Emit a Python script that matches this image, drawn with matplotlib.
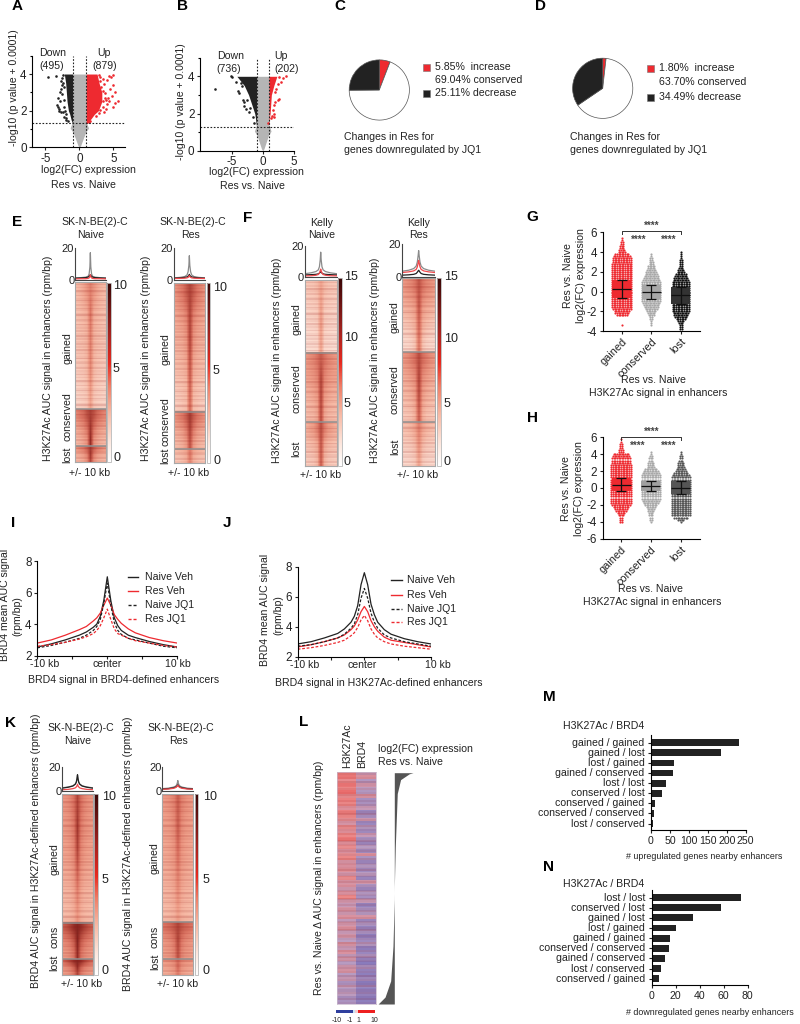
import numpy as np
import matplotlib
matplotlib.use("Agg")
import matplotlib.pyplot as plt
from matplotlib.colors import LinearSegmentedColormap, Normalize
from matplotlib.cm import ScalarMappable
from matplotlib.patches import Rectangle

W, H = 800, 1024
plt.rcParams['font.family'] = ['Liberation Sans', 'DejaVu Sans']
plt.rcParams['axes.linewidth'] = 0.8
plt.rcParams['axes.unicode_minus'] = False
FS = 7.6
TXT = '#222222'
RED = '#ee2a30'
BLK = '#222222'
GRY = '#b5b5b5'

# ---- volcano data (envelopes of the dense clouds and the loose points)
a_env_y = [1.3, 1.5, 1.8, 2.0, 2.5, 3.0, 3.5, 4.0]
a_black_x = [-1.0, -1.2, -1.4, -1.6, -1.8, -1.9, -2.0, -2.2]
a_red_x = [1.2, 1.6, 2.2, 2.8, 3.3, 3.3, 2.9, 2.6]
a_black_pts_x = [-4.6, -3.4, -3.2, -3.0, -2.9, -2.7, -3.3, -3.1, -2.8, -2.6, -2.7, -2.5, -3.0, -2.7, -2.4, -2.2, -2.0,
                 -2.4, -2.3, -2.5, -2.2, -2.3, -2.1, -2.4, -2.0, -1.9, -1.7]
a_black_pts_y = [3.85, 3.9, 2.2, 2.1, 2.5, 3.2, 2.3, 2.7, 3.0, 3.4, 3.6, 3.8, 2.0, 1.95, 1.9, 1.65, 1.5,
                 3.95, 3.3, 2.9, 2.6, 2.2, 2.0, 3.5, 1.8, 1.6, 1.45]
a_red_pts_x = [5.6, 5.3, 5.0, 4.9, 5.2, 4.6, 4.3, 4.5, 4.2, 5.0, 4.8, 3.9, 3.6, 4.0, 4.4, 1.6, 1.4,
               2.9, 3.1, 3.4, 3.6, 3.2, 3.5, 3.8, 3.7, 3.5, 3.9, 3.4, 3.1, 2.9, 4.1, 3.0, 2.4]
a_red_pts_y = [2.55, 2.4, 2.2, 3.4, 3.0, 3.85, 3.9, 3.2, 2.7, 3.95, 2.8, 2.1, 1.95, 2.35, 2.5, 1.45, 1.4,
               3.95, 3.85, 3.75, 3.45, 3.3, 3.1, 2.95, 2.7, 2.5, 2.6, 2.2, 2.05, 1.85, 3.65, 3.6, 1.7]

b_env_y = [1.3, 1.5, 1.8, 2.0, 2.5, 3.0, 3.5, 4.0]
b_black_x = [-1.0, -1.1, -1.2, -1.3, -1.8, -2.3, -3.0, -4.2]
b_red_x = [1.0, 1.05, 1.1, 1.2, 1.3, 1.4, 1.8, 2.3]
b_black_pts_x = [-7.8, -5.2, -5.0, -4.3, -4.0, -3.8, -3.4, -3.2, -3.0, -3.1, -2.7, -2.5, -2.2, -2.0, -1.6, -1.5, -3.6]
b_black_pts_y = [3.3, 4.0, 3.95, 3.7, 3.2, 3.1, 3.5, 2.7, 2.6, 2.4, 2.25, 2.75, 2.1, 2.3, 1.8, 1.5, 3.65]
b_red_pts_x = [3.8, 3.3, 3.0, 2.7, 2.4, 2.2, 2.0, 2.4, 2.0, 2.6, 1.8, 1.6, 1.9, 1.5, 1.9, 1.4, 0.9]
b_red_pts_y = [4.0, 3.9, 3.7, 3.95, 3.6, 3.3, 3.15, 2.7, 2.6, 2.8, 2.45, 2.2, 2.0, 1.85, 1.8, 1.75, 1.5]

gray_y = [0.0, 0.1, 0.3, 0.5, 0.8, 1.05, 1.3, 1.35, 4.0]
gray_x = [0.0, 0.2, 0.4, 0.6, 0.9, 1.35, 1.1, 1.0, 1.0]

# ---- pies
pie_c = [5.85, 69.04, 25.11]
pie_d = [1.80, 63.70, 34.49]
pie_colors = [RED, 'white', BLK]

# ---- heatmap rows: far, mid, near, shoulder, centre (mirrored when drawn)
e_naive = [
    [[2.6, 2.8, 3.2, 3.8, 4.6], [2.4, 2.5, 2.7, 3.0, 5.0], [2.3, 2.4, 2.5, 2.8, 4.6], [2.2, 2.3, 2.4, 2.7, 4.5], [2.0, 2.1, 2.2, 2.5, 4.0], [1.8, 1.9, 2.0, 2.2, 3.4]],
    [[4.5, 5.0, 5.5, 6.5, 7.2], [3.2, 3.5, 4.0, 5.0, 7.5], [2.6, 2.8, 3.2, 3.8, 8.0]],
    [[4.0, 4.5, 5.0, 6.0, 7.5], [3.0, 3.2, 3.6, 4.5, 7.5], [2.7, 2.9, 3.2, 4.0, 7.0]],
]
e_res = [
    [[4.0, 4.5, 5.0, 6.0, 7.0], [3.2, 3.5, 3.8, 4.5, 7.0], [2.9, 3.0, 3.2, 3.8, 7.0], [2.6, 2.7, 2.9, 3.3, 6.5], [2.3, 2.4, 2.5, 2.8, 6.0], [2.0, 2.1, 2.3, 2.5, 5.5]],
    [[4.0, 4.5, 5.0, 6.0, 7.5], [3.0, 3.2, 3.6, 4.6, 7.0], [2.5, 2.7, 3.0, 3.6, 6.5]],
    [[2.6, 2.8, 3.0, 3.4, 5.0], [2.3, 2.4, 2.6, 3.0, 5.0], [2.2, 2.3, 2.5, 2.9, 4.5]],
]
f_naive = [
    [[3.2, 3.3, 3.4, 3.8, 5.0], [2.8, 2.9, 3.0, 3.2, 5.2], [2.5, 2.6, 2.7, 3.0, 5.5], [2.2, 2.3, 2.4, 2.6, 5.0]],
    [[5.5, 6.0, 6.5, 7.5, 9.0], [5.0, 5.2, 5.6, 6.5, 10.5], [4.2, 4.4, 4.8, 5.5, 10.5], [3.6, 3.8, 4.0, 4.8, 10.0]],
    [[4.5, 5.0, 5.5, 7.0, 10.0], [3.5, 3.7, 4.0, 4.8, 9.5], [3.0, 3.1, 3.3, 4.0, 9.0]],
]
f_res = [
    [[5.5, 6.0, 6.5, 7.5, 9.5], [4.2, 4.5, 4.8, 5.5, 9.5], [3.2, 3.4, 3.7, 4.4, 8.5], [2.4, 2.5, 2.8, 3.4, 7.5]],
    [[5.5, 6.0, 6.8, 7.8, 10.0], [4.4, 4.7, 5.2, 6.0, 10.5], [3.8, 4.0, 4.4, 5.2, 10.0], [3.2, 3.4, 3.6, 4.4, 9.0]],
    [[3.6, 3.8, 4.2, 5.0, 7.0], [2.9, 3.0, 3.2, 3.8, 6.0], [2.4, 2.5, 2.7, 3.1, 5.0]],
]
k_naive = [
    [[3.8, 4.0, 4.4, 5.2, 7.0], [3.6, 3.8, 4.1, 4.8, 7.5], [3.4, 3.5, 3.8, 4.4, 7.0], [3.1, 3.2, 3.4, 3.9, 5.8], [2.7, 2.8, 2.9, 3.3, 4.6], [2.5, 2.6, 2.7, 3.0, 3.8]],
    [[6.0, 6.5, 7.2, 8.0, 8.5], [4.4, 4.7, 5.2, 6.2, 8.5], [3.6, 3.8, 4.2, 5.0, 8.0]],
    [[5.5, 6.2, 7.0, 8.0, 8.5], [4.0, 4.3, 4.8, 5.8, 8.0], [3.6, 3.8, 4.2, 5.0, 7.0]],
]
k_res = [
    [[3.6, 3.8, 4.1, 4.6, 6.0], [3.4, 3.5, 3.7, 4.2, 6.0], [3.2, 3.3, 3.5, 3.9, 5.5], [3.0, 3.1, 3.3, 3.6, 4.8], [2.7, 2.8, 2.9, 3.2, 4.2], [2.5, 2.6, 2.7, 2.9, 3.5]],
    [[5.0, 5.3, 5.6, 6.2, 7.0], [3.8, 4.0, 4.3, 5.0, 7.0], [3.4, 3.6, 3.8, 4.4, 6.5]],
    [[3.6, 3.8, 4.0, 4.4, 5.5], [3.2, 3.3, 3.5, 3.9, 5.5], [3.0, 3.1, 3.3, 3.6, 4.8]],
]
# row to row banding laid over the heatmaps
streaks = [0.2, 0.7, 0.1, 0.4, 0.0, 0.9, 0.3, 0.1, 0.6, 0.0, 0.3, 0.8, 0.2, 0.0, 0.5, 0.1, 0.7, 0.3, 0.0, 0.4,
           1.0, 0.2, 0.1, 0.6, 0.3, 0.0, 0.8, 0.2, 0.4, 0.1, 0.6, 0.0, 0.3, 0.9, 0.2, 0.5, 0.0, 0.3, 0.7, 0.1,
           0.4, 0.0, 0.8, 0.2, 0.5, 0.1, 0.3, 0.9, 0.0, 0.4, 0.6, 0.1, 0.2, 0.7, 0.0, 0.3]

# ---- small profile plots above the heatmaps: -10 ... 0, mirrored
prof_x = [-10, -6, -3, -1.5, -0.8, -0.3, 0]
e_naive_prof = [[1.0, 1.2, 1.5, 2.0, 3.5, 8.0, 17.0], [0.8, 1.0, 1.2, 1.5, 2.0, 2.6, 3.0], [0.4, 0.5, 0.5, 0.7, 1.0, 1.8, 3.0]]
e_res_prof = [[1.2, 1.5, 2.0, 3.0, 5.0, 9.0, 15.0], [1.0, 1.2, 1.5, 1.8, 2.2, 2.8, 3.4], [0.8, 0.9, 1.0, 1.2, 1.5, 2.0, 2.6]]
f_naive_prof = [[2.0, 2.6, 3.4, 4.5, 6.5, 11.0, 16.0], [1.2, 1.4, 1.6, 1.9, 2.4, 3.0, 3.4], [0.6, 0.7, 1.0, 1.5, 2.4, 4.0, 5.0]]
f_res_prof = [[3.4, 4.0, 5.0, 6.5, 9.0, 13.0, 16.0], [1.0, 1.2, 1.5, 2.0, 2.8, 3.6, 4.0], [2.6, 3.0, 3.6, 4.5, 6.0, 8.5, 10.0]]
k_naive_prof = [[2.5, 3.2, 4.2, 5.5, 7.0, 10.0, 13.0], [2.2, 3.0, 4.0, 5.5, 7.2, 10.5, 13.5], [0.9, 1.2, 1.8, 2.4, 3.2, 4.2, 5.5]]
k_res_prof = [[1.8, 2.2, 3.0, 3.8, 4.8, 6.5, 8.5], [1.4, 1.8, 2.4, 3.0, 3.6, 4.4, 5.0], [1.2, 1.5, 2.0, 2.6, 3.2, 4.0, 4.6]]

# ---- beeswarm bins for G and H, top to bottom
g_levels = [5.4, 5.2, 5.0, 4.8, 4.6, 4.4, 4.2, 4.0, 3.8, 3.6, 3.4, 3.2, 3.0, 2.8, 2.6, 2.4, 2.2, 2.0, 1.8, 1.6, 1.4, 1.2, 1.0, 0.8,
            0.6, 0.4, 0.2, 0.0, -0.2, -0.4, -0.6, -0.8, -1.0, -1.2, -1.4, -1.6, -1.8, -2.0, -2.2, -2.4, -2.6, -2.8, -3.0, -3.2, -3.4, -3.6, -3.8]
g_gained = [1, 1, 2, 2, 3, 3, 4, 5, 9, 11, 12, 12, 12, 13, 13, 13, 13, 13, 13, 13, 13, 13, 13, 13,
            13, 13, 13, 13, 13, 13, 13, 13, 13, 13, 13, 13, 12, 10, 9, 7, 0, 0, 0, 0, 1, 0, 0]
g_cons = [0, 0, 0, 0, 0, 0, 0, 0, 1, 1, 2, 2, 3, 3, 5, 5, 6, 7, 8, 9, 10, 11, 12, 12,
          12, 12, 12, 12, 12, 12, 12, 12, 12, 11, 10, 9, 8, 6, 5, 4, 2, 2, 1, 1, 1, 0, 0]
g_lost = [0, 0, 0, 0, 0, 0, 0, 1, 1, 1, 1, 2, 2, 2, 2, 3, 4, 5, 7, 8, 9, 10, 11, 11,
          11, 11, 11, 11, 11, 11, 11, 11, 11, 11, 11, 11, 11, 11, 10, 9, 8, 6, 4, 3, 2, 2, 2]
g_band = [(-0.7, 1.2), (-0.8, 0.7), (-1.3, 0.5)]
g_mean = [0.25, 0.0, -0.4]

h_levels = [5.75, 5.5, 5.25, 5.0, 4.75, 4.5, 4.25, 4.0, 3.75, 3.5, 3.25, 3.0, 2.75, 2.5, 2.25, 2.0, 1.75, 1.5, 1.25, 1.0, 0.75, 0.5, 0.25, 0.0,
            -0.25, -0.5, -0.75, -1.0, -1.25, -1.5, -1.75, -2.0, -2.25, -2.5, -2.75, -3.0, -3.25, -3.5, -3.75, -4.0]
h_gained = [1, 1, 2, 2, 2, 3, 3, 10, 11, 12, 12, 12, 13, 13, 13, 13, 13, 13, 13, 13, 13, 13, 13, 13,
            13, 13, 13, 13, 13, 13, 13, 12, 10, 8, 7, 5, 4, 2, 2, 2]
h_cons = [0, 0, 0, 0, 0, 0, 1, 1, 2, 3, 3, 4, 4, 5, 8, 10, 11, 12, 12, 12, 12, 12, 12, 12,
          12, 12, 12, 12, 12, 11, 10, 8, 6, 5, 4, 3, 3, 2, 2, 1]
h_lost = [0, 0, 0, 0, 0, 0, 1, 1, 2, 2, 3, 4, 4, 5, 6, 7, 9, 11, 12, 12, 12, 12, 12, 12,
          12, 12, 12, 12, 12, 12, 12, 12, 12, 12, 12, 12, 12, 9, 4, 1]
h_band = [(-0.4, 1.2), (-0.4, 0.8), (-0.7, 0.8)]
h_mean = [0.4, 0.2, 0.0]

# ---- profiles I and J
line_x = [-10, -8, -6, -4, -3, -2, -1.5, -1, -0.5, 0, 0.5, 1, 1.5, 2, 3, 4, 6, 8, 10]
i_naive_veh = [2.55, 2.75, 3.0, 3.3, 3.5, 3.8, 4.0, 4.5, 5.5, 7.0, 5.5, 4.4, 3.9, 3.6, 3.3, 3.15, 2.9, 2.7, 2.55]
i_res_veh = [2.8, 3.0, 3.3, 3.65, 3.85, 4.2, 4.4, 4.7, 5.2, 5.65, 5.2, 4.6, 4.3, 4.05, 3.7, 3.45, 3.15, 2.95, 2.8]
i_naive_jq1 = [2.5, 2.65, 2.85, 3.1, 3.3, 3.6, 3.85, 4.3, 5.3, 6.6, 5.2, 4.1, 3.6, 3.35, 3.1, 3.0, 2.8, 2.6, 2.5]
i_res_jq1 = [2.6, 2.7, 2.85, 3.05, 3.2, 3.4, 3.6, 3.9, 4.4, 4.95, 4.3, 3.7, 3.4, 3.3, 3.1, 2.95, 2.8, 2.65, 2.55]
j_naive_veh = [2.85, 3.0, 3.25, 3.55, 3.85, 4.3, 4.7, 5.4, 6.8, 7.6, 6.8, 5.5, 4.8, 4.3, 3.8, 3.5, 3.2, 3.0, 2.85]
j_res_veh = [2.65, 2.8, 3.0, 3.25, 3.45, 3.8, 4.05, 4.45, 5.0, 5.35, 5.0, 4.4, 4.0, 3.7, 3.3, 3.1, 2.95, 2.8, 2.65]
j_naive_jq1 = [2.7, 2.8, 3.0, 3.25, 3.5, 3.9, 4.2, 4.8, 5.9, 6.55, 5.9, 4.9, 4.3, 3.9, 3.45, 3.25, 3.0, 2.85, 2.7]
j_res_jq1 = [2.5, 2.6, 2.75, 2.95, 3.1, 3.4, 3.6, 3.95, 4.45, 4.75, 4.4, 3.85, 3.5, 3.25, 3.0, 2.85, 2.7, 2.6, 2.5]
legend_names = ['Naive Veh', 'Res Veh', 'Naive JQ1', 'Res JQ1']

# ---- L: delta AUC per row (H3K27Ac, BRD4) and the expression ribbon
l_h3 = [0.55, 0.6, 0.45, 0.6, 0.5, 0.65, 0.45, 0.55, 0.5, 0.35, 0.55, 0.5, 0.4, 0.25, 0.45, 0.35, 0.5, 0.6, 0.35, 0.45,
        0.3, 0.4, 0.5, 0.25, 0.3, 0.35, 0.2, 0.45, 0.25, 0.3, 0.15, 0.3, 0.5, 0.2, 0.1, 0.25, 0.15, 0.3, 0.05, 0.2,
        0.3, 0.1, 0.2, 0.0, 0.25, 0.1, 0.3, 0.05, 0.2, -0.05, 0.15, 0.25, -0.05, 0.1, -0.15, 0.05, -0.1, 0.0, -0.2, -0.15]
l_brd4 = [0.1, 0.3, -0.1, 0.2, 0.0, -0.1, 0.25, -0.2, -0.15, 0.1, -0.3, -0.2, 0.15, -0.3, -0.1, -0.25, 0.1, -0.2, -0.3, -0.05,
          -0.25, 0.3, -0.15, -0.3, -0.1, -0.25, -0.05, -0.3, 0.2, -0.15, -0.3, -0.1, -0.2, 0.1, -0.35, -0.2, -0.1, 0.25, -0.3, -0.15,
          -0.35, -0.2, -0.4, -0.25, -0.1, -0.4, -0.3, -0.15, -0.35, -0.45, -0.2, -0.35, -0.4, -0.25, -0.45, -0.3, -0.4, -0.35, -0.45, -0.4]
ribbon_frac = [0.0, 0.005, 0.03, 0.09, 0.32, 0.49, 0.55, 0.75, 0.9, 0.97, 1.0]
ribbon_fc = [5.7, 4.5, 1.9, 0.9, 0.3, 0.02, -0.02, -0.4, -1.1, -2.8, -4.9]

# ---- bars M and N
m_names = ['gained / gained', 'gained / lost', 'lost / gained', 'gained / conserved', 'lost / lost',
           'conserved / lost', 'conserved / gained', 'conserved / conserved', 'lost / conserved']
m_vals = [231, 186, 62, 59, 39, 30, 11, 8, 5]
n_names = ['lost / lost', 'conserved / lost', 'gained / lost', 'lost / gained', 'gained / gained',
           'conserved / conserved', 'gained / conserved', 'lost / conserved', 'conserved / gained']
n_vals = [74, 58, 34, 20, 15, 14, 11, 8, 6]

bar_cmap = LinearSegmentedColormap.from_list(
    'heatbar', [(0, '#ffffff'), (0.12, '#fde6dc'), (0.28, '#f7b7a2'), (0.42, '#ef7f68'), (0.55, '#e7291f'),
                (0.72, '#a3231f'), (1, '#3a0606')])
heat_cmap = LinearSegmentedColormap.from_list(
    'heat', [(0, '#ffffff'), (0.18, '#fbd6c8'), (0.26, '#f7bba7'), (0.35, '#f0a08a'), (0.5, '#dd7765'),
             (0.65, '#bd5244'), (0.8, '#962f28'), (1, '#5a1010')])
streak_cmap = LinearSegmentedColormap.from_list('streak', ['#90101000', '#90101030'])
l_cmap = LinearSegmentedColormap.from_list('delta', ['#3a4fb0', '#8478bc', '#bd9fc2', '#ec8a8a', '#e83030'])


fig = plt.figure(figsize=(W / 100, H / 100), dpi=100)


def axpx(x0, y0, x1, y1):
    return fig.add_axes([x0 / W, 1 - y1 / H, (x1 - x0) / W, (y1 - y0) / H])


ov = fig.add_axes([0, 0, 1, 1], zorder=20)
ov.set_xlim(0, W)
ov.set_ylim(H, 0)
ov.axis('off')
ov.patch.set_alpha(0)


def T(x, y, s, size=FS, ha='center', rot=0, **kw):
    kw.setdefault('color', TXT)
    ov.text(x, y, s, fontsize=size, ha=ha, va='center', rotation=rot, rotation_mode='anchor', **kw)


def clean(ax):
    ax.spines['top'].set_visible(False)
    ax.spines['right'].set_visible(False)
    ax.patch.set_alpha(0)
    ax.tick_params(labelsize=8.4, width=0.8, length=2.5, pad=1.5, colors=TXT)


for s, x, y in [('A', 17, 6), ('B', 183, 6), ('C', 340, 6), ('D', 541, 6), ('E', 17, 222), ('F', 248, 218),
                ('G', 532, 217), ('H', 532, 418), ('I', 13, 523), ('J', 227, 523), ('K', 10, 723), ('L', 304, 722),
                ('M', 549, 697), ('N', 548, 867)]:
    T(x, y, s, size=11, fontweight='bold', color='black')


def volcano(box, xlim, ey, bx, rx, bpx, bpy, rpx, rpy, xt):
    ax = axpx(*box)
    clean(ax)
    ax.fill_betweenx(gray_y, -np.array(gray_x), gray_x, color=GRY, lw=0)
    ax.fill_betweenx(ey, bx, -1, color=BLK, lw=0)
    ax.fill_betweenx(ey, 1, rx, color=RED, lw=0)
    ax.scatter(bpx, bpy, s=3.5, color=BLK, lw=0)
    ax.scatter(rpx, rpy, s=3.5, color=RED, lw=0)
    ax.axvline(-1, color='#222', lw=0.8, ls=(0, (1.5, 1.5)))
    ax.axvline(1, color='#222', lw=0.8, ls=(0, (1.5, 1.5)))
    ax.axhline(1.3, color='#222', lw=0.8, ls=(0, (1.5, 1.5)))
    ax.set_xlim(*xlim)
    ax.set_ylim(0, 5)
    ax.set_xticks(xt)
    ax.set_yticks([0, 2, 4])
    ax.set_yticks([1, 3, 5], minor=True)
    ax.tick_params(which='minor', length=1.5, width=0.8)


volcano((32.3, 55.7, 125, 147.3), (-6.9, 6.7), a_env_y, a_black_x, a_red_x, a_black_pts_x, a_black_pts_y,
        a_red_pts_x, a_red_pts_y, [-5, 0, 5])
volcano((200, 57.7, 293.5, 150.7), (-10.2, 5), b_env_y, b_black_x, b_red_x, b_black_pts_x, b_black_pts_y,
        b_red_pts_x, b_red_pts_y, [-5, 0, 5])

T(53, 53, 'Down')
T(52, 66, '(495)')
T(104, 53, 'Up')
T(105, 66, '(879)')
T(231, 56, 'Down')
T(229, 69, '(736)')
T(281, 56, 'Up')
T(287, 69, '(202)')
T(14, 88, '-log10 (p value + 0.0001)', rot=90)
T(181, 102, '-log10 (p value + 0.0001)', rot=90)
T(88, 170, 'log2(FC) expression')
T(83, 185, 'Res vs. Naive')
T(256, 172, 'log2(FC) expression')
T(252, 186, 'Res vs. Naive')

# pies
for vals, cx, cy in [(pie_c, 379.3, 90), (pie_d, 602.7, 88.3)]:
    ax = axpx(cx - 31, cy - 31, cx + 31, cy + 31)
    ax.pie(vals, colors=pie_colors, startangle=90, counterclock=False, radius=1,
           wedgeprops=dict(edgecolor='#555555', linewidth=0.5))
    ax.set_xlim(-1.03, 1.03)
    ax.set_ylim(-1.03, 1.03)

for x, ys in [(426, (67, 93)), (650.7, (68, 97.7))]:
    ov.add_patch(Rectangle((x - 3.5, ys[0] - 3.5), 7, 7, fc=RED, ec='#777', lw=0.4))
    ov.add_patch(Rectangle((x - 3.5, ys[1] - 3.5), 7, 7, fc=BLK, ec='#777', lw=0.4))
T(435, 67, '5.85%  increase', ha='left')
T(435, 80, '69.04% conserved', ha='left')
T(435, 93, '25.11% decrease', ha='left')
T(659, 68, '1.80%  increase', ha='left')
T(659, 82, '63.70% conserved', ha='left')
T(659, 97.5, '34.49% decrease', ha='left')
T(344, 137, 'Changes in Res for', ha='left')
T(344, 150, 'genes downregulated by JQ1', ha='left')
T(570, 137, 'Changes in Res for', ha='left')
T(570, 150, 'genes downregulated by JQ1', ha='left')


def mirror(row):
    return list(row) + list(row[-2::-1])


def heatmap(box, bounds, sections, vmax, profile, prof_box, cbar_box, cbar_ticks, cbar_x):
    x0, y0, x1, y1 = box
    ax = axpx(*box)
    edges = [y0] + list(bounds) + [y1]
    for i, sec in enumerate(sections):
        ax.imshow([mirror(r) for r in sec], extent=[-10, 10, edges[i + 1], edges[i]], aspect='auto', cmap=heat_cmap,
                  vmin=0, vmax=vmax, interpolation='bilinear')
    ax.imshow(np.tile(streaks, 2)[:, None], extent=[-10, 10, y1, y0], aspect='auto', cmap=streak_cmap, vmin=0, vmax=1,
              interpolation='nearest')
    for b in bounds:
        ax.axhline(b, color='#8f8f8f', lw=1.1)
    ax.set_xlim(-10, 10)
    ax.set_ylim(y1, y0)
    ax.set_xticks([])
    ax.set_yticks([])
    for sp in ax.spines.values():
        sp.set_color('#a8a8a8')
        sp.set_linewidth(0.8)

    px = prof_x + [-v for v in prof_x[-2::-1]]
    ax2 = axpx(*prof_box)
    clean(ax2)
    for vals, col in zip(profile, ['#8a8a8a', BLK, '#f0484c']):
        ax2.plot(px, mirror(vals), color=col, lw=0.9)
    ax2.set_xlim(-10, 10)
    ax2.set_ylim(0, 20)
    ax2.set_xticks([])
    ax2.set_yticks([0, 20])
    ax2.tick_params(labelsize=8, pad=0.5, length=0)
    ax2.spines['left'].set_color('#444')
    ax2.spines['bottom'].set_color('#444')

    cax = axpx(*cbar_box)
    cb = fig.colorbar(ScalarMappable(Normalize(0, vmax), bar_cmap), cax=cax)
    cb.set_ticks([])
    cb.outline.set_edgecolor('#b8b8b8')
    cb.outline.set_linewidth(0.6)
    for lab, y in cbar_ticks:
        T(cbar_x, y, lab, size=9, ha='left')


heatmap((75, 282, 105.7, 461.7), (409.3, 445.7), e_naive, 10, e_naive_prof, (75, 248, 105.7, 279.5),
        (107.3, 282.7, 110.7, 461.7), [('10', 285.7), ('5', 369), ('0', 458)], 113)
heatmap((173.7, 283, 205, 463), (411.7, 449), e_res, 10, e_res_prof, (173.7, 247.7, 205, 279.8),
        (206.7, 283, 210, 463), [('10', 287.7), ('5', 371), ('0', 461)], 213)
heatmap((304.7, 280, 336.7, 466), (352.7, 422.3), f_naive, 15, f_naive_prof, (304.7, 246, 336.7, 276.8),
        (338.3, 278, 341.7, 466), [('15', 277), ('10', 338), ('5', 404), ('0', 461.7)], 344)
heatmap((402, 278, 435.3, 466), (352, 422), f_res, 15, f_res_prof, (402, 244, 435.3, 276.8),
        (437, 278, 440.7, 466), [('15', 277), ('10', 339), ('5', 404), ('0', 462)], 444)
heatmap((62, 794, 93, 975.3), (922.7, 959.3), k_naive, 10, k_naive_prof, (62, 767, 93, 790.8),
        (94.3, 794, 97.7, 975.3), [('10', 796.7), ('5', 880), ('0', 970.7)], 101.7)
heatmap((162.3, 794, 193.3, 975.3), (922.3, 959.3), k_res, 10, k_res_prof, (162.3, 766.7, 193.3, 790.8),
        (195, 794, 198, 975.3), [('10', 796.7), ('5', 880), ('0', 970.7)], 202.7)

T(94.7, 221.7, 'SK-N-BE(2)-C')
T(91, 235, 'Naive')
T(192.7, 221.7, 'SK-N-BE(2)-C')
T(190, 235, 'Res')
T(48, 358, 'H3K27Ac AUC signal in enhancers (rpm/bp)', rot=90)
T(145.7, 358, 'H3K27Ac AUC signal in enhancers (rpm/bp)', rot=90)
T(67.7, 347.7, 'gained', rot=90)
T(67.7, 416.7, 'conserved', rot=90)
T(67.7, 455, 'lost', rot=90)
T(165.7, 349.3, 'gained', rot=90)
T(165.7, 421.7, 'conserved', rot=90)
T(165.7, 455.7, 'lost', rot=90)
T(90, 472.7, '+/- 10 kb')
T(189, 472.7, '+/- 10 kb')

T(321.7, 223, 'Kelly')
T(322, 235, 'Naive')
T(419, 223, 'Kelly')
T(419, 235, 'Res')
T(276.7, 360, 'H3K27Ac AUC signal in enhancers (rpm/bp)', rot=90)
T(375, 360, 'H3K27Ac AUC signal in enhancers (rpm/bp)', rot=90)
T(296.7, 319.3, 'gained', rot=90)
T(296.7, 389, 'conserved', rot=90)
T(296.7, 449, 'lost', rot=90)
T(395, 317, 'gained', rot=90)
T(395, 390, 'conserved', rot=90)
T(395, 447, 'lost', rot=90)
T(321, 475.3, '+/- 10 kb')
T(418, 475.3, '+/- 10 kb')

T(81, 728.3, 'SK-N-BE(2)-C')
T(78, 741, 'Naive')
T(180.3, 728.3, 'SK-N-BE(2)-C')
T(178, 741, 'Res')
T(35.7, 850.8, 'BRD4 AUC signal in H3K27Ac-defined enhancers (rpm/bp)', rot=90)
T(128.3, 854, 'BRD4 AUC signal in H3K27Ac-defined enhancers (rpm/bp)', rot=90)
T(54.3, 859, 'gained', rot=90)
T(54.3, 936.7, 'cons', rot=90)
T(54.3, 963, 'lost', rot=90)
T(155, 858, 'gained', rot=90)
T(155, 936.7, 'cons', rot=90)
T(155, 962, 'lost', rot=90)
T(81.7, 984.3, '+/- 10 kb')
T(177.7, 984.3, '+/- 10 kb')


def swarm(box, ylim, yticks, levels, counts, colors, bands, band_colors, means, centers, brk, stars):
    ax = axpx(*box)
    clean(ax)
    x0, y0, x1, y1 = box
    unit_x = (centers[2] - centers[0]) / 2
    step = 1.6 / unit_x
    names = ['gained', 'conserved', 'lost']
    for k, c in enumerate([1, 2, 3]):
        for y, n in zip(levels, counts[k]):
            off = (np.arange(n) - (n - 1) / 2) * step
            ax.scatter(c + off, np.full(n, y), s=2.4, color=colors[k], lw=0)
        hw = 9.5 / unit_x
        ax.fill_between([c - hw, c + hw], bands[k][0], bands[k][1], color=band_colors[k], lw=0)
        ax.errorbar(c, means[k], yerr=[[means[k] - bands[k][0]], [bands[k][1] - means[k]]], color='#111', lw=0.9,
                    capsize=3.4, capthick=0.9)
        ax.hlines(means[k], c - hw, c + hw, color='#111', lw=0.9)
    ax.set_xlim(1 - (centers[0] - x0) / unit_x, 3 + (x1 - centers[2]) / unit_x)
    ax.set_ylim(*ylim)
    ax.set_yticks(yticks)
    ax.set_xticks([1, 2, 3])
    ax.set_xticklabels(names, rotation=45, ha='right', rotation_mode='anchor', fontsize=7.8)
    ov.plot([centers[0], centers[0], centers[2], centers[2]], [brk + 3, brk, brk, brk + 3], color='#333', lw=0.7)
    T(centers[1] + 1, stars[0], '****', size=7, fontweight='bold', color='#444')
    T(centers[0] + 17, stars[1], '****', size=7, fontweight='bold', color='#444')
    T(centers[2] - 12.5, stars[1], '****', size=7, fontweight='bold', color='#444')


swarm((602.7, 232.3, 700, 331), (-4, 6), [-4, -2, 0, 2, 4, 6], g_levels, [g_gained, g_cons, g_lost],
      [RED, '#a8a8a8', '#111111'], g_band, [RED, '#a8a8a8', '#333333'], g_mean, (621.7, 651, 680.7), 231, (226, 239.5))
swarm((602.7, 437.3, 700, 538.7), (-6, 6), [-6, -4, -2, 0, 2, 4, 6], h_levels, [h_gained, h_cons, h_lost],
      [RED, '#a8a8a8', '#555555'], h_band, [RED, '#a0a0a0', '#555555'], h_mean, (621, 650.7, 680.7), 436.7, (431.5, 445.5))

T(653.3, 380, 'Res vs. Naive')
T(658, 393, 'H3K27Ac signal in enhancers')
T(568, 276, 'Res vs. Naive', rot=90)
T(580.7, 276, 'log2(FC) expression', rot=90)
T(650.7, 589.3, 'Res vs. Naive')
T(652.3, 602.3, 'H3K27Ac signal in enhancers')
T(566, 488.3, 'Res vs. Naive', rot=90)
T(578.7, 488.3, 'log2(FC) expression', rot=90)


def lines(box, series, leg_x, leg_ys, text_x):
    ax = axpx(*box)
    clean(ax)
    styles = [(BLK, '-'), (RED, '-'), (BLK, (0, (2.2, 1.4))), (RED, (0, (2.2, 1.4)))]
    for vals, (c, ls) in zip(series, styles):
        ax.plot(line_x, vals, color=c, ls=ls, lw=0.9)
    ax.set_xlim(-10, 10)
    ax.set_ylim(2, 8)
    ax.set_xticks([-10, -5, 0, 5, 10])
    ax.set_xticklabels([])
    ax.set_yticks([2, 4, 6, 8])
    for name, y, (c, ls) in zip(legend_names, leg_ys, styles):
        ov.plot(leg_x, [y, y], color=c, ls=ls, lw=1.0)
        T(text_x, y, name, ha='left')


lines((37.3, 561, 177.3, 655.7), [i_naive_veh, i_res_veh, i_naive_jq1, i_res_jq1], [128.3, 138.3],
      [577.3, 591, 605, 619.3], 145)
lines((297.7, 566.7, 431, 656.7), [j_naive_veh, j_res_veh, j_naive_jq1, j_res_jq1], [390.7, 401.7],
      [580.3, 594.7, 608.7, 622.3], 407.3)
T(44.5, 663.7, '-10 kb')
T(107, 663.7, 'center')
T(178, 663.7, '10 kb')
T(305, 664.7, '-10 kb')
T(362, 664.7, 'center')
T(438, 664.7, '10 kb')
T(5.5, 605, 'BRD4 mean AUC signal', rot=90)
T(17.3, 616, '(rpm/bp)', rot=90)
T(265, 610, 'BRD4 mean AUC signal', rot=90)
T(278.3, 615, '(rpm/bp)', rot=90)
T(124, 680, 'BRD4 signal in BRD4-defined enhancers')
T(379, 683, 'BRD4 signal in H3K27Ac-defined enhancers')

# L
ax = axpx(336.7, 771.7, 375.7, 1004)
ax.imshow(np.column_stack([l_h3, l_brd4]), aspect='auto', cmap=l_cmap, vmin=-1, vmax=1, interpolation='nearest',
          extent=[0, 2, 1, 0])
ax.imshow(np.tile(streaks, 2)[:, None], extent=[0, 2, 1, 0], aspect='auto', cmap=streak_cmap, vmin=0, vmax=1,
          interpolation='nearest')
ax.set_xticks([])
ax.set_yticks([])
for sp in ax.spines.values():
    sp.set_color('#c8b8cc')
    sp.set_linewidth(0.5)

ax = axpx(377, 772.7, 416, 1004)
ax.fill_betweenx(ribbon_frac, 0, ribbon_fc, color='#555555', lw=0)
ax.set_xlim((377 - 394.3) / 3.3, (416 - 394.3) / 3.3)
ax.set_ylim(1, 0)
ax.axis('off')

ax = axpx(335.7, 1010, 374.7, 1013.5)
ax.imshow([[-1, -1, -1, -1, -1, -1, -1, -1, -0.2, 0.2, 1, 1, 1, 1, 1, 1, 1, 1]], aspect='auto',
          cmap=LinearSegmentedColormap.from_list('lbar', ['#2f3f9e', '#7fc0e8', 'white', '#f08080', '#ee2020']),
          vmin=-1, vmax=1, interpolation='nearest')
ax.axis('off')
for s, x in [('-10', 337), ('-1', 350), ('1', 358), ('10', 374)]:
    T(x, 1021, s, size=5)
T(346.7, 768, 'H3K27Ac', ha='left', rot=90)
T(362.3, 768, 'BRD4', ha='left', rot=90)
T(378.3, 749.3, 'log2(FC) expression', ha='left')
T(378.3, 762.3, 'Res vs. Naive', ha='left')
T(319.3, 878.3, 'Res vs. Naive \u0394 AUC signal in enhancers (rpm/bp)', rot=90)


def bars(x0, x1, y_top, y_bot, ycenters, vals, names, xmax, xticks):
    ax = axpx(x0, y_top, x1, y_bot)
    clean(ax)
    ax.barh(ycenters, vals, height=6.5, color=BLK, lw=0)
    ax.set_xlim(0, xmax)
    ax.set_ylim(y_bot, y_top)
    ax.set_xticks(xticks)
    ax.set_yticks(ycenters)
    ax.set_yticklabels([])
    ax.tick_params(labelsize=7.6, pad=2)
    for n, y in zip(names, ycenters):
        T(x0 - 6.7, y, n, ha='right')


m_rows = [742.7, 752.7, 763, 773, 783.3, 793.3, 803.3, 813.3, 823.7]
n_rows = [897.7, 907.7, 917.7, 928, 938.3, 948.3, 958.3, 968.7, 978.7]
bars(651, 745.7, 735, 830, m_rows, m_vals, m_names, 250, [0, 50, 100, 150, 200, 250])
bars(651.7, 747.7, 890, 985, n_rows, n_vals, n_names, 80, [0, 20, 40, 60, 80])
T(644.3, 726, 'H3K27Ac / BRD4', ha='right')
T(644.3, 884, 'H3K27Ac / BRD4', ha='right')
T(704.3, 856.3, '# upregulated genes nearby enhancers', size=6.4)
T(710, 1012.7, '# downregulated genes nearby enhancers', size=6.4)

fig.savefig('out.png', dpi=100)
